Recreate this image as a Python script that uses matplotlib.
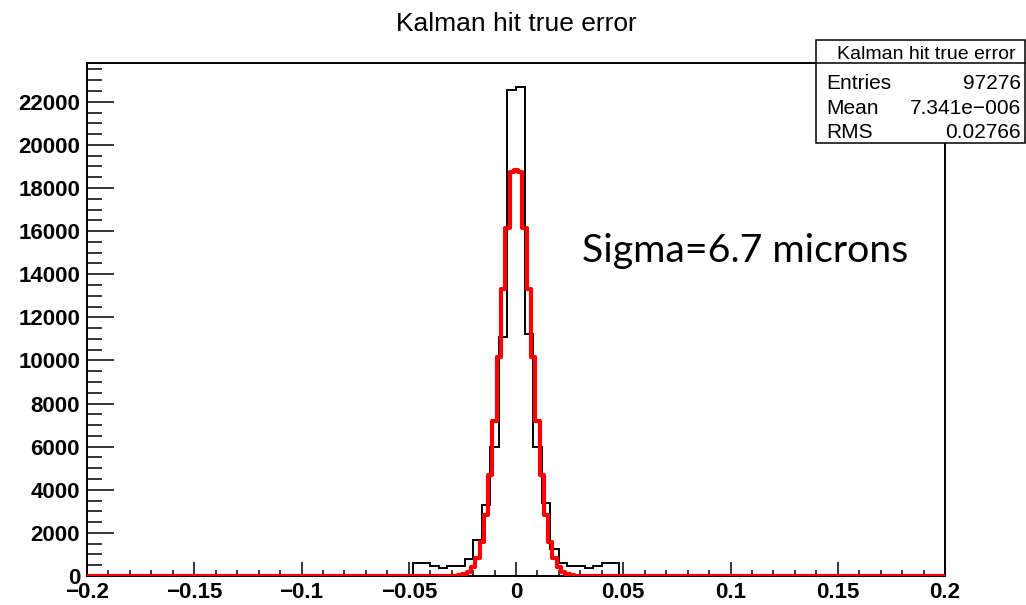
import matplotlib.pyplot as plt
import numpy as np
from matplotlib.lines import Line2D
from matplotlib.patches import Rectangle
from matplotlib.ticker import FuncFormatter, MultipleLocator

W, H = 1026, 605

# histogram: 100 bins on [-0.2, 0.2]; only bins in [-0.048, 0.048] are filled
bin_edges = np.linspace(-0.2, 0.2, 101)
filled_from = 38  # index of bin [-0.048, -0.044]
filled_counts = [
    590, 590, 470, 360, 470, 470, 800, 1650, 3300, 6000, 11100, 22550,
    22680, 11250, 6000, 3370, 1250, 590, 470, 470, 360, 470, 590, 590,
]

# gaussian fit curve
fit_x = [-0.2, -0.028, -0.026, -0.024, -0.022, -0.02, -0.018, -0.016, -0.014,
         -0.012, -0.01, -0.008, -0.006, -0.004, -0.002, 0.0, 0.002, 0.004,
         0.006, 0.008, 0.01, 0.012, 0.014, 0.016, 0.018, 0.02, 0.022, 0.024,
         0.026, 0.028, 0.2]
fit_y = [0, 0, 28, 73, 180, 400, 830, 1600, 2850, 4700, 7190, 10170, 13320,
         16150, 18750, 18850, 18750, 16150, 13320, 10170, 7190, 4700, 2850,
         1600, 830, 400, 180, 73, 28, 0, 0]

title = "Kalman hit true error"
stats_rows = [("Entries", "97276"), ("Mean", "7.341e\u2212006"), ("RMS", "0.02766")]
note = "Sigma=6.7 microns"

counts = np.zeros(len(bin_edges) - 1)
counts[filled_from:filled_from + len(filled_counts)] = filled_counts


def fx(px):
    return px / W


def fy(py):
    return 1 - py / H


fig = plt.figure(figsize=(W / 100, H / 100), dpi=100)
ax = fig.add_axes([fx(87), fy(576), fx(945) - fx(87), fy(63) - fy(576)])

ax.stairs(counts, bin_edges, color="black", lw=1.4, zorder=2)
ax.plot(fit_x, fit_y, color="red", lw=3.0, zorder=3, drawstyle="steps-mid")

ax.set_xlim(-0.2, 0.2)
ax.set_ylim(0, 23800)

ax.xaxis.set_major_locator(MultipleLocator(0.05))
ax.xaxis.set_minor_locator(MultipleLocator(0.01))
ax.yaxis.set_major_locator(MultipleLocator(2000))
ax.yaxis.set_minor_locator(MultipleLocator(500))
ax.xaxis.set_major_formatter(FuncFormatter(lambda v, p: f"{v:g}".replace("-", "\u2212") if abs(v) > 1e-9 else "0"))
ax.yaxis.set_major_formatter(FuncFormatter(lambda v, p: f"{int(round(v))}"))

lab_font = {"family": "Liberation Sans", "weight": "bold", "size": 16}
ax.tick_params(axis="both", which="both", direction="in", width=1.1, color="black")
ax.tick_params(axis="x", which="major", length=10, pad=4)
ax.tick_params(axis="x", which="minor", length=4.3)
ax.tick_params(axis="y", which="major", length=19.4, pad=5)
ax.tick_params(axis="y", which="minor", length=10.8)
for lbl in ax.get_xticklabels() + ax.get_yticklabels():
    lbl.set_fontproperties(lab_font)
for s in ax.spines.values():
    s.set_linewidth(1.4)

fig.text(0.5 * (fx(87) + fx(945)), fy(31), title, ha="center", va="baseline",
         family="Liberation Sans", size=19)

# stats box over the top right corner
bx0, bx1, by0, by1, bydiv = 816, 1025, 40, 143, 63
fig.patches.append(Rectangle((fx(bx0), fy(by1)), fx(bx1) - fx(bx0), fy(by0) - fy(by1),
                             transform=fig.transFigure, facecolor="white",
                             edgecolor="black", lw=1.1, zorder=5))
fig.lines.append(Line2D([fx(bx0), fx(bx1)], [fy(bydiv), fy(bydiv)],
                        transform=fig.transFigure, color="black", lw=1.1, zorder=6))
fig.text(fx(926), fy(59), title, ha="center", va="baseline",
         family="Liberation Sans", size=14, zorder=7)
for i, (name, val) in enumerate(stats_rows):
    base = fy(89 + i * 24.5)
    fig.text(fx(826), base, name, ha="left", va="baseline",
             family="Liberation Sans", size=15, zorder=7)
    fig.text(fx(1021), base, val, ha="right", va="baseline",
             family="Liberation Sans", size=15, zorder=7)

fig.text(fx(582), fy(262), note, ha="left", va="baseline", family="Lato", size=28.3)

fig.savefig("out.png", dpi=100)
